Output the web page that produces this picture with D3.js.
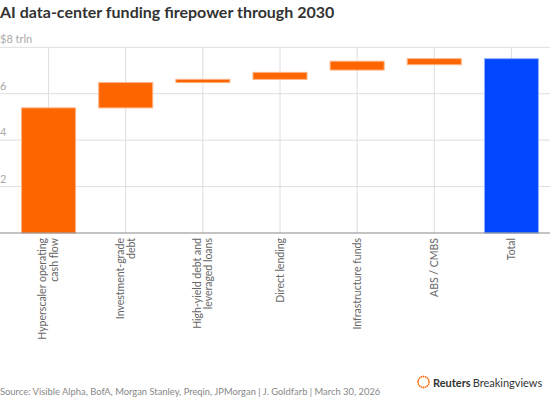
<!DOCTYPE html>
<html>
<head>
<meta charset="utf-8">
<script src="https://cdn.jsdelivr.net/npm/d3@7"></script>
<style>
  body { margin: 0; background: #fff; }
  svg { display: block; font-family: Lato, "Open Sans", sans-serif; }
</style>
</head>
<body>
<div id="chart"></div>
<script>
// Chart data (trillions of dollars)
var categories = [
  "Hyperscaler operating cash flow",
  "Investment-grade debt",
  "High-yield debt and leveraged loans",
  "Direct lending",
  "Infrastructure funds",
  "ABS / CMBS",
  "Total"
];
var labelLines = [
  ["Hyperscaler operating", "cash flow"],
  ["Investment-grade", "debt"],
  ["High-yield debt and", "leveraged loans"],
  ["Direct lending"],
  ["Infrastructure funds"],
  ["ABS / CMBS"],
  ["Total"]
];
var barLow = [0, 5.39, 6.48, 6.62, 7.02, 7.25, 0];
var barHigh = [5.39, 6.48, 6.62, 6.92, 7.40, 7.51, 7.51];
var yTicks = [2, 4, 6, 8];

// Sizes
var W = 550, H = 398;
var plotTop = 47.3, plotBottom = 233;

var orange = "#fd6500";
var blue = "#0047ff";

var svg = d3.select("#chart")
  .append("svg")
  .attr("width", W)
  .attr("height", H);

// Title
svg.append("text")
  .attr("x", 0)
  .attr("y", 18)
  .style("font-size", "16px")
  .style("font-weight", "bold")
  .style("fill", "#333")
  .text("AI data-center funding firepower through 2030");

// Scales
var x = d3.scaleBand()
  .domain(categories)
  .range([10, 550])
  .paddingInner(0.3)
  .paddingOuter(0.15);

var y = d3.scaleLinear()
  .domain([0, 8])
  .range([plotBottom, plotTop]);

// Horizontal gridlines + tick labels
svg.append("g")
  .selectAll("line")
  .data(yTicks)
  .enter()
  .append("line")
  .attr("x1", 0)
  .attr("x2", W)
  .attr("y1", function (d) { return y(d); })
  .attr("y2", function (d) { return y(d); })
  .style("stroke", "#dedede")
  .style("stroke-width", 1);

svg.append("g")
  .selectAll("text")
  .data(yTicks)
  .enter()
  .append("text")
  .attr("x", 0)
  .attr("y", function (d) { return y(d) - 4; })
  .style("font-size", "11px")
  .style("fill", "#aaa")
  .text(function (d) { return d === 8 ? "$8 trln" : d; });

// Vertical gridlines at band centres
svg.append("g")
  .selectAll("line")
  .data(categories)
  .enter()
  .append("line")
  .attr("x1", function (d) { return x(d) + x.bandwidth() / 2; })
  .attr("x2", function (d) { return x(d) + x.bandwidth() / 2; })
  .attr("y1", y(8))
  .attr("y2", y(0))
  .style("stroke", "#dedede")
  .style("stroke-width", 1);

// Bars
svg.append("g")
  .selectAll("rect")
  .data(categories)
  .enter()
  .append("rect")
  .attr("x", function (d) { return x(d); })
  .attr("width", x.bandwidth())
  .attr("y", function (d, i) { return y(barHigh[i]); })
  .attr("height", function (d, i) { return y(barLow[i]) - y(barHigh[i]); })
  .style("fill", function (d, i) { return i === categories.length - 1 ? blue : orange; })
  .style("stroke", function (d, i) { return i === categories.length - 1 ? "#8fb0ff" : "#ffb080"; })
  .style("stroke-width", 1);

// Baseline
svg.append("line")
  .attr("x1", 0)
  .attr("x2", W)
  .attr("y1", y(0))
  .attr("y2", y(0))
  .style("stroke", "#888")
  .style("stroke-width", 1);

// Rotated category labels
var lab = svg.append("g")
  .selectAll("text")
  .data(categories)
  .enter()
  .append("text")
  .attr("transform", function (d) {
    return "translate(" + (x(d) + x.bandwidth() / 2) + "," + (y(0) + 5) + ") rotate(-90)";
  })
  .style("text-anchor", "end")
  .style("font-size", "10.5px")
  .style("fill", "#666");

lab.each(function (d, i) {
  var lines = labelLines[i];
  var t = d3.select(this);
  lines.forEach(function (ln, j) {
    t.append("tspan")
      .attr("x", 0)
      .attr("dy", j === 0 ? (lines.length === 1 ? "0.35em" : "-0.2em") : "1.1em")
      .text(ln);
  });
});

// Footer
svg.append("text")
  .attr("x", 0)
  .attr("y", 395)
  .style("font-size", "9.4px")
  .style("fill", "#888")
  .text("Source: Visible Alpha, BofA, Morgan Stanley, Preqin, JPMorgan | J. Goldfarb | March 30, 2026");

// Logo: dotted ring + wordmark
var logo = svg.append("g").attr("transform", "translate(423.5,382)");
d3.range(16).forEach(function (k) {
  var a = k / 16 * 2 * Math.PI;
  logo.append("circle")
    .attr("cx", Math.cos(a) * 5.5)
    .attr("cy", Math.sin(a) * 5.5)
    .attr("r", 0.9)
    .style("fill", orange);
});
var word = svg.append("text")
  .attr("x", 433)
  .attr("y", 386.5)
  .style("font-size", "11px")
  .style("fill", "#333");
word.append("tspan").style("font-weight", "bold").text("Reuters");
word.append("tspan").attr("dx", 2).text("Breakingviews");
</script>
</body>
</html>
